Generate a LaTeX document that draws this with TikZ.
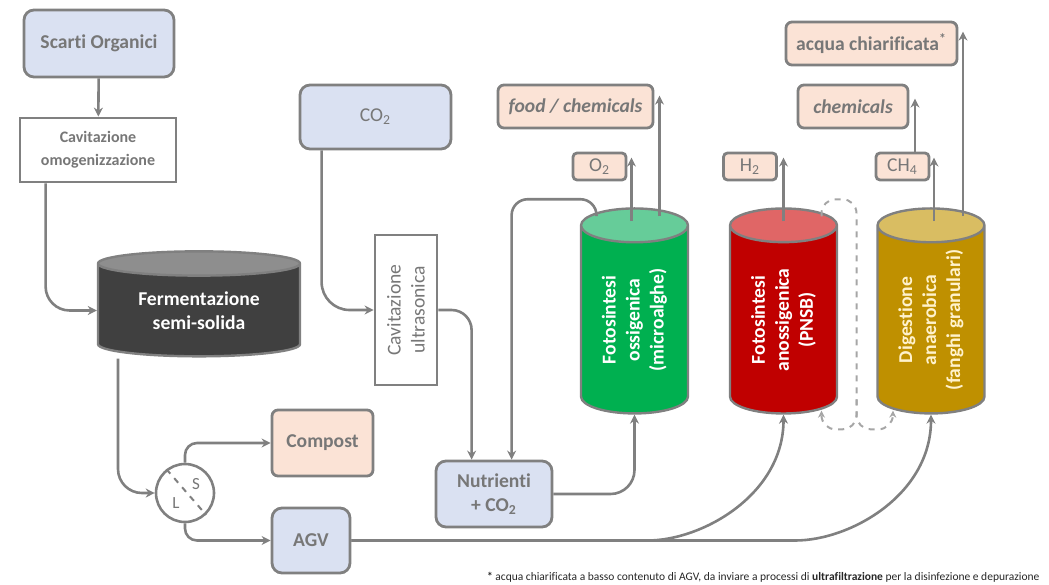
\documentclass[tikz,border=0pt]{standalone}
\usepackage{fontspec}
\setmainfont[Ligatures=NoCommon]{Carlito}
\usepackage{tikz}
\usetikzlibrary{shapes.geometric,arrows.meta,calc}

\definecolor{linegray}{HTML}{808080}
\definecolor{textgray}{HTML}{777777}
\definecolor{boxblue}{HTML}{DAE1F2}
\definecolor{boxpeach}{HTML}{FBE3D6}
\definecolor{fermdark}{HTML}{404040}
\definecolor{fermtop}{HTML}{8E8E8E}
\definecolor{algagreen}{HTML}{00B050}
\definecolor{algatop}{HTML}{66CC99}
\definecolor{pnsbred}{HTML}{C00000}
\definecolor{pnsbtop}{HTML}{E06666}
\definecolor{fanghigold}{HTML}{BF9000}
\definecolor{fanghitop}{HTML}{D9BD62}
\definecolor{creamtext}{HTML}{FFF2CC}

\newcommand{\mainfont}{\fontsize{9.8}{12}\selectfont}

\tikzset{
  procbox/.style={draw=linegray, line width=1.4pt, rounded corners=5pt, align=center,
    text=textgray, font=\mainfont\bfseries, inner sep=2pt},
  inbox/.style={procbox, fill=boxblue},
  outbox/.style={procbox, fill=boxpeach, rounded corners=3pt},
  gasbox/.style={outbox, rounded corners=2pt, minimum width=26.5pt, minimum height=13.5pt,
    inner sep=1pt, font=\mainfont},
  plainbox/.style={procbox, fill=white, sharp corners},
  reactor/.style={cylinder, draw=linegray, line width=1.2pt, rotate=90, aspect=0.52,
    cylinder uses custom fill, minimum width=53.5pt, minimum height=102.5pt,
    inner sep=0pt, align=center, font=\mainfont\bfseries},
  flow/.style={draw=linegray, line width=1.3pt, -{Stealth[length=4.5pt,width=4.5pt]},
    rounded corners=12pt},
  backflow/.style={flow, draw=linegray!70, line width=1pt, dashed, rounded corners=7pt,
    -{Stealth[length=3.5pt,width=3.5pt]}},
}

\begin{document}
\begin{tikzpicture}[x=0.5pt, y=-0.5pt]
  \useasboundingbox (0,0) rectangle (1049,584);

  % ingressi e pretrattamenti
  \node[inbox, minimum width=75pt, minimum height=33.5pt] (scarti) at (99,43.5) {Scarti Organici};
  \node[plainbox, minimum width=78pt, minimum height=32pt, font=\fontsize{8}{11.5}\selectfont\bfseries]
    (cavom) at (98,150) {Cavitazione\\omogenizzazione};
  \node[cylinder, shape border rotate=90, aspect=0.2, draw=linegray, line width=1.2pt,
    cylinder uses custom fill, cylinder body fill=fermdark, cylinder end fill=fermtop,
    minimum width=101pt, minimum height=52.5pt, inner sep=0pt, align=center,
    text=white, font=\mainfont\bfseries] (ferm) at (199,310.5) {Fermentazione\\semi-solida};
  \node[circle, draw=linegray, line width=1.3pt, fill=white, minimum size=29pt, inner sep=0pt]
    (sep) at (185,493) {};
  \draw[linegray, dashed, line width=1pt] (sep.128) -- (sep.-46);
  \node[text=textgray, font=\fontsize{8.5}{10}\selectfont] (sepS) at (196,484) {S};
  \node[text=textgray, font=\fontsize{8.5}{10}\selectfont] (sepL) at (176,503) {L};
  \node[outbox, minimum width=50.5pt, minimum height=33pt] (compost) at (322.5,443) {Compost};
  \node[inbox, minimum width=39pt, minimum height=32.5pt] (agv) at (311,540.5) {AGV};

  \node[inbox, minimum width=75.5pt, minimum height=32pt, font=\mainfont] (co2) at (375.5,117) {CO\textsubscript{2}};
  \node[plainbox, rotate=90, minimum width=75pt, minimum height=31pt, font=\mainfont]
    (cavus) at (406,310) {Cavitazione\\ultrasonica};
  \node[inbox, minimum width=58pt, minimum height=33pt] (nutri) at (494,494) {Nutrienti\\+ CO\textsubscript{2}};

  % reattori
  \node[reactor, cylinder body fill=algagreen, cylinder end fill=algatop, text=white]
    (alghe) at (634.5,320) {Fotosintesi\\ossigenica\\(microalghe)};
  \node[reactor, cylinder body fill=pnsbred, cylinder end fill=pnsbtop, text=white]
    (pnsb) at (783.5,320) {Fotosintesi\\anossigenica\\(PNSB)};
  \node[reactor, cylinder body fill=fanghigold, cylinder end fill=fanghitop, text=creamtext]
    (fanghi) at (931,320) {Digestione\\anaerobica\\(fanghi granulari)};

  % prodotti
  \node[gasbox] (ossigeno) at (599.5,166.5) {O\textsubscript{2}};
  \node[gasbox] (idrogeno) at (750,166.5) {H\textsubscript{2}};
  \node[gasbox] (metano) at (902.5,166.5) {CH\textsubscript{4}};
  \node[outbox, minimum width=77.5pt, minimum height=21.5pt, font=\mainfont\bfseries\itshape]
    (food) at (575.5,106.5) {food / chemicals};
  \node[outbox, minimum width=55pt, minimum height=21.5pt, font=\mainfont\bfseries\itshape]
    (chem) at (853,106.5) {chemicals};
  \node[outbox, minimum width=85.5pt, minimum height=21.5pt] (acqua) at (871.5,43.5)
    {acqua chiarificata\textsuperscript{*}};

  \node[anchor=west, font=\fontsize{5.75}{7}\selectfont, text=black!85] (nota) at (480,577)
    {\textbf{*} acqua chiarificata a basso contenuto di AGV, da inviare a processi di
     \textbf{ultrafiltrazione} per la disinfezione e depurazione};

  % collegamenti
  \draw[flow] (scarti) -- (cavom);
  \draw[flow] ($(cavom.south west)+(27,0)$) |- (ferm.west);
  \draw[flow] ($(ferm.center)+(-81,48)$) |- (sep.west);
  \draw[flow, rounded corners=6pt] (sep.north) |- (compost.west);
  \draw[flow, rounded corners=6pt] (sep.south) |- (agv.west);
  \draw[flow, rounded corners=14pt] ($(co2.south west)+(23,0)$) |- (cavus.north);
  \draw[flow, rounded corners=10pt] (cavus.south) -| ($(nutri.north west)+(37,0)$);
  \coordinate (alghe-ric) at ($(alghe.top)+(-38,9)$);
  \draw[flow, rounded corners=8pt] (alghe-ric) -- ++(0,-17) -| ($(nutri.north west)+(77,0)$);
  \draw[flow] (nutri.east) -| (alghe.bottom);
  \draw[flow] (agv.east) -- ($(pnsb.bottom |- agv.east)+(-160,0)$) to[out=0, in=-90] (pnsb.bottom);
  \draw[flow] (agv.east) -- ($(fanghi.bottom |- agv.east)+(-160,0)$) to[out=0, in=-90] (fanghi.bottom);

  \coordinate (alghe-o2) at ($(alghe.top)+(-3,14)$);
  \draw[flow] (alghe-o2) -- ($(alghe-o2 |- ossigeno.north)+(0,6)$);
  \coordinate (alghe-food) at ($(alghe.top)+(25,9)$);
  \draw[flow] (alghe-food) -- ($(alghe-food |- food.north)+(0,12)$);
  \coordinate (pnsb-h2) at ($(pnsb.top)+(0,14)$);
  \draw[flow] (pnsb-h2) -- ($(pnsb-h2 |- idrogeno.north)+(0,6)$);
  \coordinate (fanghi-ch4) at ($(fanghi.top)+(3,14)$);
  \draw[flow] (fanghi-ch4) -- ($(fanghi-ch4 |- metano.north)+(0,6)$);
  \coordinate (fanghi-acqua) at ($(fanghi.top)+(32,9)$);
  \draw[flow] (fanghi-acqua) -- ($(fanghi-acqua |- acqua.north)+(0,11)$);
  \coordinate (metano-chem) at ($(metano.north)+(12.5,0)$);
  \draw[flow] (metano-chem) -- ($(metano-chem |- chem.north)+(0,15)$);

  % ricircolo tratteggiato
  \coordinate (pnsb-ret) at ($(pnsb.top)+(38,9)$);
  \draw[backflow] (pnsb-ret) -- ++(0,-17) -- ++(35,0) -- ++(0,230) -- ++(-35,0)
    -- ($(pnsb.bottom)+(38,-4)$);
  \draw[backflow] ($(pnsb.top)+(73,192)$) -- ++(0,30) -- ++(36,0) -- ($(fanghi.bottom)+(-38,-4)$);
\end{tikzpicture}
\end{document}
